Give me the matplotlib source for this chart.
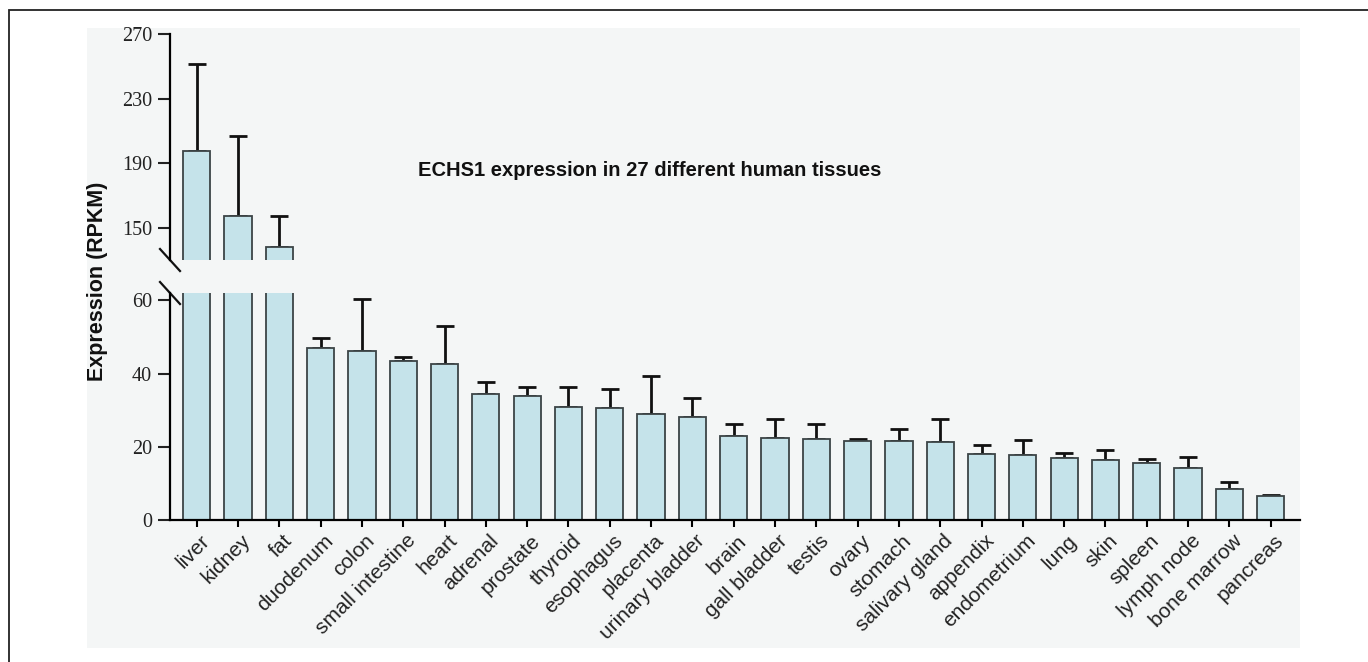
import numpy as np
import matplotlib
matplotlib.use("Agg")
import matplotlib.pyplot as plt
from matplotlib.patches import Rectangle
from matplotlib.transforms import ScaledTranslation

# ECHS1 expression per tissue (RPKM), mean and upper error bar
tissues = ["liver", "kidney", "fat", "duodenum", "colon", "small intestine", "heart",
           "adrenal", "prostate", "thyroid", "esophagus", "placenta", "urinary bladder",
           "brain", "gall bladder", "testis", "ovary", "stomach", "salivary gland",
           "appendix", "endometrium", "lung", "skin", "spleen", "lymph node",
           "bone marrow", "pancreas"]
means = [197.6, 157.4, 138.2, 47.0, 46.2, 43.4, 42.6, 34.4, 33.8, 31.0, 30.6, 28.9, 28.0,
         22.9, 22.5, 22.2, 21.6, 21.6, 21.3, 18.1, 17.8, 16.9, 16.5, 15.5, 14.2, 8.5, 6.6]
err_top = [251.4, 206.9, 157.4, 49.8, 60.3, 44.6, 52.9, 37.6, 36.2, 36.4, 35.7, 39.3, 33.3,
           26.2, 27.5, 26.1, 22.0, 24.8, 27.7, 20.4, 21.9, 18.3, 19.0, 16.6, 17.1, 10.3, 6.7]
low_ticks = [0, 20, 40, 60]
high_ticks = [150, 190, 230, 270]

W, H = 1368, 662
fig = plt.figure(figsize=(W / 100, H / 100), dpi=100)

# outer frame (cut off at right/bottom) and grey panel, kept behind the axes
fig.patches.append(Rectangle((9 / W, -0.2), 1.5, (H - 10) / H + 0.2, transform=fig.transFigure,
                             fill=False, edgecolor="#222222", linewidth=1.3, zorder=-10))
fig.patches.append(Rectangle((87 / W, (H - 648) / H), (1300 - 87) / W, (648 - 28) / H,
                             transform=fig.transFigure, facecolor="#f4f6f6", edgecolor="none",
                             zorder=-10))

left, width = 170 / W, 1130 / W
ax_lo = fig.add_axes([left, (H - 520) / H, width, (520 - 293) / H])
ax_hi = fig.add_axes([left, (H - 260) / H, width, (260 - 34) / H])

x = np.arange(len(tissues))
m = np.array(means)
e = np.array(err_top) - m
serif = "Liberation Serif"
sans = "Liberation Sans"

for ax in (ax_lo, ax_hi):
    ax.set_facecolor("none")
    ax.bar(x, m, width=0.66, color="#c5e3ea", edgecolor="#3c4446", linewidth=1.3, zorder=2)
    ax.errorbar(x, m, yerr=[np.zeros_like(e), e], fmt="none", ecolor="#111111",
                elinewidth=2.0, capsize=6.5, capthick=2.0, zorder=1)
    ax.set_xlim(-0.646, 26.71)
    for s in ("top", "right"):
        ax.spines[s].set_visible(False)
    ax.spines["left"].set_linewidth(1.6)
    ax.spines["bottom"].set_linewidth(1.6)
    ax.tick_params(axis="y", length=9, width=1.5, pad=4, labelsize=14.5, colors="#222222")

ax_lo.set_ylim(0, 62)
ax_lo.set_yticks(low_ticks)
ax_hi.set_ylim(130, 270)
ax_hi.set_yticks(high_ticks)
for ax in (ax_lo, ax_hi):
    for lab in ax.get_yticklabels():
        lab.set_fontfamily(serif)

ax_hi.spines["bottom"].set_visible(False)
ax_hi.set_xticks([])

ax_lo.set_xticks(x)
ax_lo.set_xticklabels(tissues, rotation=45, ha="right", va="top", rotation_mode="anchor",
                      fontsize=15, fontfamily=sans, color="#222222")
ax_lo.tick_params(axis="x", length=5, width=1.5, pad=3)
off = ScaledTranslation(3 / 100, 0, fig.dpi_scale_trans)
for lab in ax_lo.get_xticklabels():
    lab.set_transform(lab.get_transform() + off)

# break marks on the y axis
dx = 10 / 1130
dy_lo = 11 / 227
dy_hi = 11 / 226
ax_hi.plot([-dx, dx], [dy_hi, -dy_hi], transform=ax_hi.transAxes, color="#111111",
           linewidth=1.6, clip_on=False)
ax_lo.plot([-dx, dx], [1 + dy_lo, 1 - dy_lo], transform=ax_lo.transAxes, color="#111111",
           linewidth=1.6, clip_on=False)

fig.text(97 / W, (H - 281) / H, "Expression (RPKM)", rotation=90, ha="center", va="center",
         fontsize=15.5, fontweight="bold", fontfamily=sans, color="#111111")
fig.text(650 / W, (H - 170) / H, "ECHS1 expression in 27 different human tissues",
         ha="center", va="center", fontsize=14.5, fontweight="bold", fontfamily=sans, color="#111111")

fig.savefig("out.png", dpi=100)
